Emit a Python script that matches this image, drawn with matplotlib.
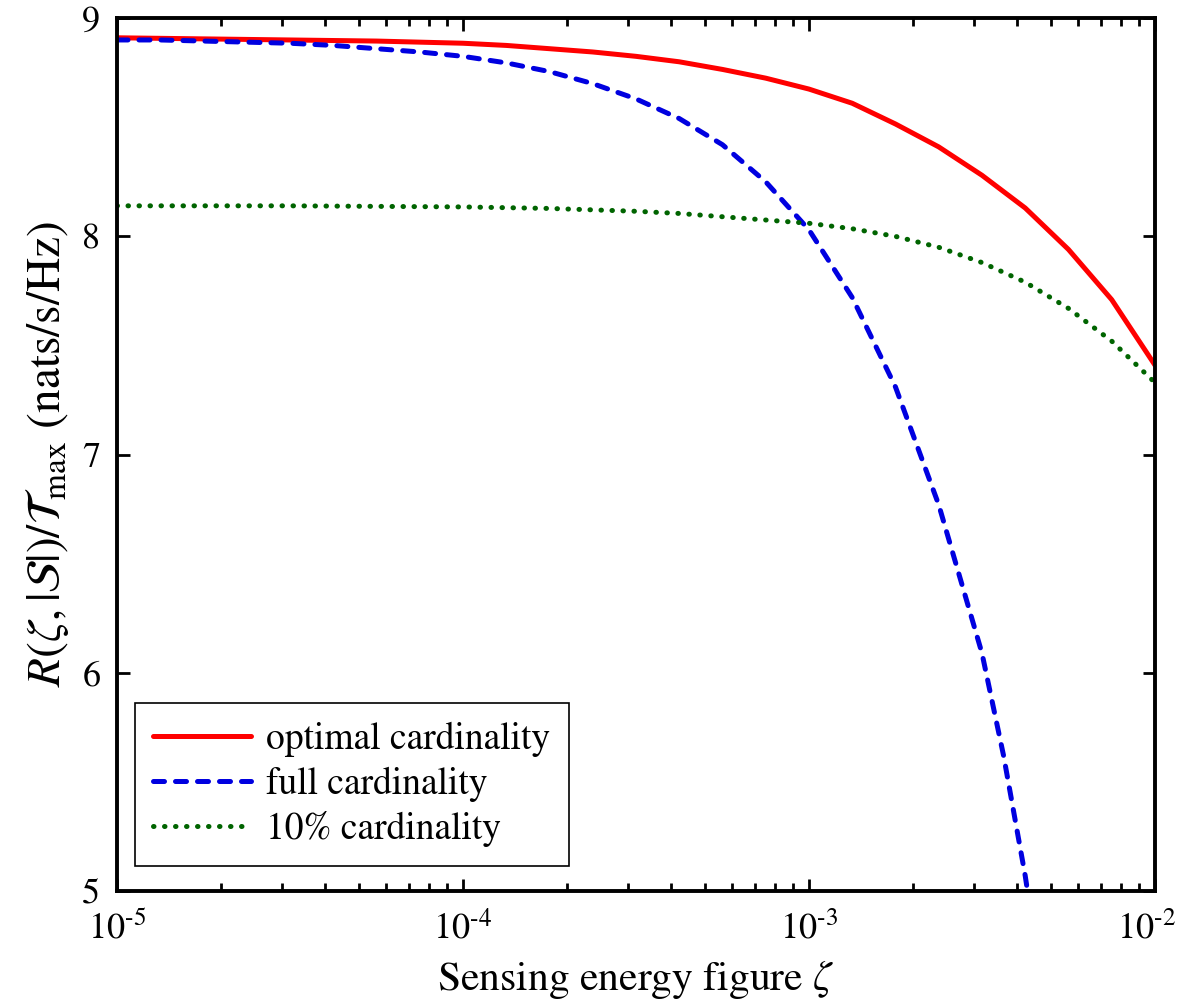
import matplotlib
matplotlib.use("Agg")
import matplotlib.pyplot as plt
import matplotlib.transforms as mtransforms
import numpy as np

plt.rcParams['font.family'] = ['STIXGeneral', 'DejaVu Serif']
plt.rcParams['mathtext.fontset'] = 'stix'

# log10 of sensing energy figure
log_zeta_opt = [-5, -4.75, -4.5, -4.25, -4, -3.875, -3.75, -3.625, -3.5, -3.375,
                -3.25, -3.125, -3, -2.875, -2.75, -2.625, -2.5, -2.375, -2.25,
                -2.125, -2]
rate_opt = [8.91, 8.905, 8.90, 8.895, 8.885, 8.875, 8.86, 8.845, 8.825, 8.80,
            8.765, 8.725, 8.675, 8.61, 8.515, 8.41, 8.28, 8.13, 7.94,
            7.71, 7.41]

log_zeta_full = [-5, -4.875, -4.75, -4.625, -4.5, -4.375, -4.25, -4.125, -4,
                 -3.875, -3.75, -3.625, -3.5, -3.375, -3.25, -3.125, -3,
                 -2.875, -2.75, -2.625, -2.5, -2.4375, -2.375, -2.33]
rate_full = [8.90, 8.90, 8.895, 8.89, 8.885, 8.875, 8.86, 8.845, 8.825,
             8.795, 8.755, 8.70, 8.63, 8.54, 8.42, 8.25, 8.03,
             7.72, 7.31, 6.77, 6.09, 5.62, 5.07, 4.6]

log_zeta_10 = [-5, -4.5, -4, -3.75, -3.5, -3.375, -3.25, -3.125, -3, -2.875,
               -2.75, -2.625, -2.5, -2.375, -2.25, -2.125, -2]
rate_10 = [8.14, 8.14, 8.135, 8.128, 8.115, 8.105, 8.09, 8.075, 8.06, 8.035,
           8.00, 7.95, 7.88, 7.79, 7.67, 7.52, 7.33]

x_ticks = [1e-5, 1e-4, 1e-3, 1e-2]
x_tick_labels = [r'$10^{\text{-}5}$', r'$10^{\text{-}4}$',
                 r'$10^{\text{-}3}$', r'$10^{\text{-}2}$']
y_ticks = [5, 6, 7, 8, 9]

fig = plt.figure(figsize=(11.83, 10.08), dpi=100)
ax = fig.add_axes([0.0989, 0.116, 0.8774, 0.866])

ax.plot(10.0 ** np.array(log_zeta_opt), rate_opt, color='#ff0000', lw=3.6,
        solid_capstyle='round', label='optimal cardinality')
ax.plot(10.0 ** np.array(log_zeta_full), rate_full, color='#0000e0', lw=3.6,
        ls=(0, (2.2, 2.2)), dash_capstyle='round', label='full cardinality')
ax.plot(10.0 ** np.array(log_zeta_10), rate_10, color='#006400', lw=3.6,
        ls=(0, (0.1, 2.1)), dash_capstyle='round', label='10% cardinality')

ax.set_xscale('log')
ax.set_xticks(x_ticks)
ax.set_xticklabels(x_tick_labels)
ax.set_yticks(y_ticks)
ax.xaxis.set_minor_locator(matplotlib.ticker.LogLocator(base=10, subs=np.arange(2, 10)))
ax.xaxis.set_minor_formatter(matplotlib.ticker.NullFormatter())
ax.set_xlim(1e-5, 1e-2)
ax.set_ylim(5, 9)

ax.tick_params(which='both', direction='in', top=True, right=True,
               labelsize=26, width=2)
ax.tick_params(which='major', length=9)
ax.tick_params(axis='x', which='major', pad=15)
ax.tick_params(axis='y', which='major', pad=12)
ax.tick_params(which='minor', length=6)
for s in ax.spines.values():
    s.set_linewidth(2.8)

ax.set_xlabel(r'Sensing energy figure $\zeta$', fontsize=30, labelpad=8)
ax.set_ylabel(r'$R(\zeta,|\mathcal{S}|)/\mathcal{T}_{\rm max}$ (nats/s/Hz)',
              fontsize=34, labelpad=8)

leg = ax.legend(loc='lower left', bbox_to_anchor=(0.017, 0.029), fontsize=27,
                handlelength=2.6, handletextpad=0.4, fancybox=False,
                framealpha=1, edgecolor='black', borderaxespad=0,
                labelspacing=0.25, borderpad=0.5)
leg.get_frame().set_linewidth(1.2)

# nudge the last x tick label a little left so it stays inside the figure
fig.canvas.draw()
last = ax.xaxis.get_major_ticks()[-1].label1
last.set_transform(last.get_transform() +
                   mtransforms.ScaledTranslation(-6 / 72, 0, fig.dpi_scale_trans))

fig.savefig('out.png', dpi=100)
